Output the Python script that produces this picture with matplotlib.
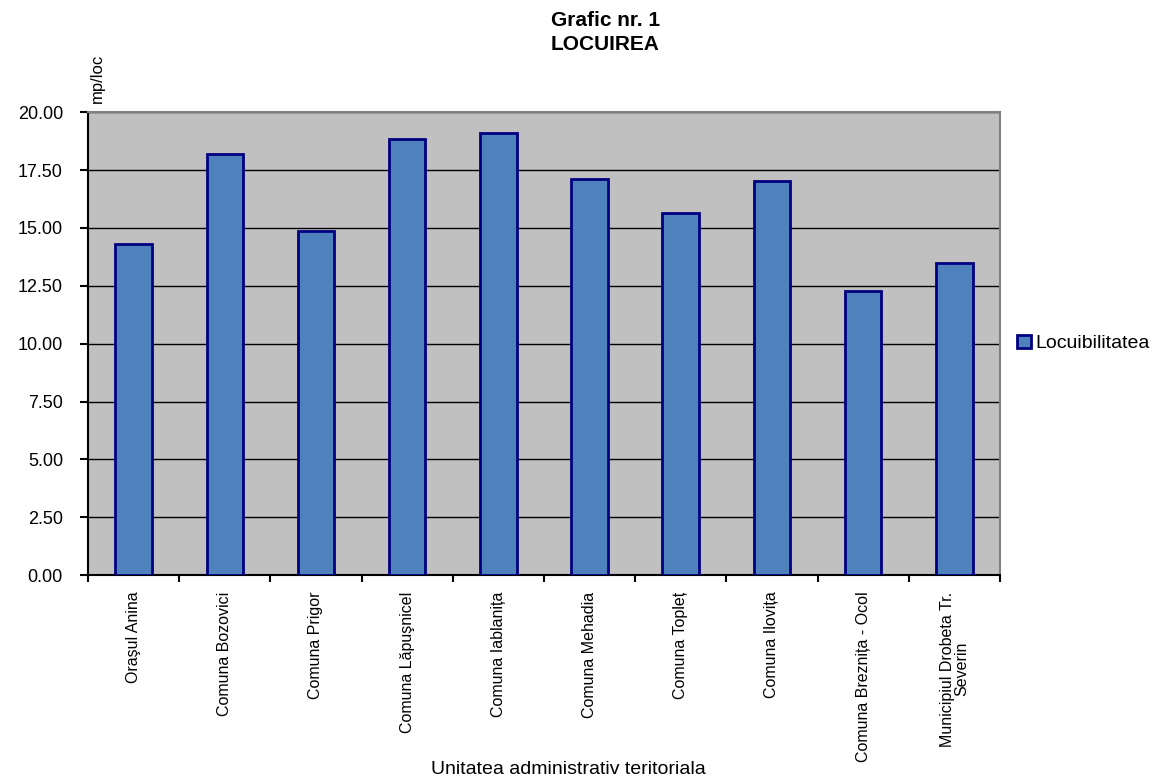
import numpy as np
import matplotlib.pyplot as plt
from matplotlib.ticker import FixedLocator, NullFormatter

plt.rcParams['font.family'] = ['Liberation Sans', 'DejaVu Sans']

localitati = ['Oraşul Anina', 'Comuna Bozovici', 'Comuna Prigor', 'Comuna Lăpuşnicel',
              'Comuna Iablanița', 'Comuna Mehadia', 'Comuna Topleț', 'Comuna Ilovița',
              'Comuna Breznița - Ocol', 'Municipiul Drobeta Tr.\nSeverin']
locuibilitate = [14.3, 18.2, 14.85, 18.85, 19.1, 17.1, 15.65, 17.05, 12.27, 13.48]

fig = plt.figure(figsize=(11.64, 7.8), dpi=100)
ax = fig.add_axes([0.0756, 0.2628, 0.7834, 0.5932])
ax.set_facecolor('#C0C0C0')

x = np.arange(len(localitati))
ax.bar(x, locuibilitate, width=0.4, color='#4F81BD', edgecolor='#000080',
       linewidth=2, label='Locuibilitatea', zorder=3)

ax.set_xlim(-0.5, len(localitati) - 0.5)
ax.set_ylim(0, 20)
ax.set_yticks(np.arange(0, 20.01, 2.5))
ax.set_yticklabels(['%.2f' % v for v in np.arange(0, 20.01, 2.5)], fontsize=13)
ax.yaxis.grid(True, color='black', linewidth=1, zorder=1)
ax.set_axisbelow(True)

# category labels centred, tick marks between categories
ax.set_xticks(x)
ax.set_xticklabels(localitati, rotation=90, fontsize=11.5, va='top', ha='center',
                   linespacing=0.95)
ax.tick_params(axis='x', which='major', length=0, pad=12)
ax.xaxis.set_minor_locator(FixedLocator(np.arange(-0.5, len(localitati), 1)))
ax.xaxis.set_minor_formatter(NullFormatter())
ax.tick_params(axis='x', which='minor', length=5, width=1.5, direction='out')
ax.tick_params(axis='y', length=6, width=1.5, direction='out', pad=12)

ax.spines['left'].set_linewidth(1.5)
ax.spines['bottom'].set_linewidth(1.5)
ax.spines['top'].set_color('#808080')
ax.spines['right'].set_color('#808080')
ax.spines['top'].set_linewidth(1.5)
ax.spines['right'].set_linewidth(1.5)

fig.text(0.52, 0.986, 'Grafic nr. 1', ha='center', va='top', fontsize=15, fontweight='bold')
fig.text(0.52, 0.955, 'LOCUIREA', ha='center', va='top', fontsize=15, fontweight='bold')
fig.text(0.084, 0.9, 'mp/loc', rotation=90, ha='center', va='center', fontsize=12)
fig.text(0.488, 0.002, 'Unitatea administrativ teritoriala', ha='center', va='bottom',
         fontsize=14)

ax.legend(loc='center left', bbox_to_anchor=(1.0, 0.5), frameon=False, fontsize=14,
          handlelength=0.7, handleheight=0.7, handletextpad=0.2, borderaxespad=0.5)

plt.savefig('out.png', dpi=100)
